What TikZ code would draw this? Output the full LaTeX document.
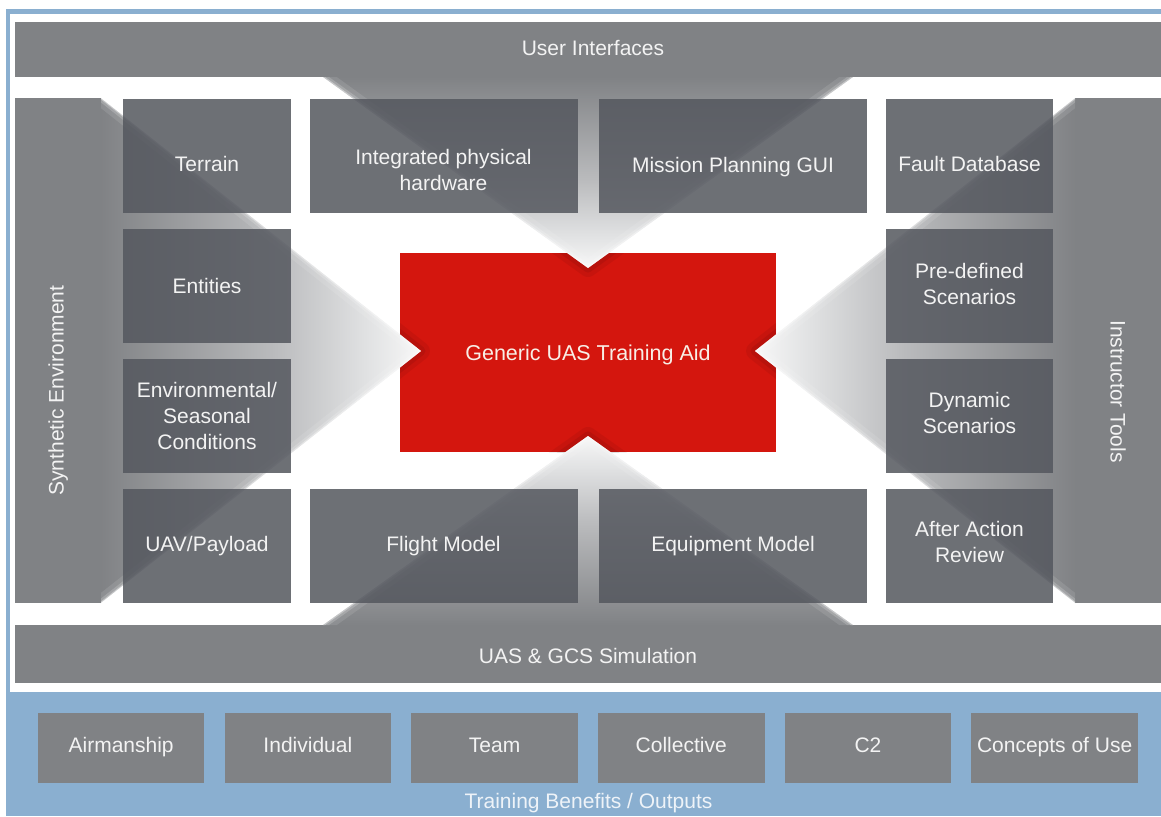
\documentclass[tikz,border=0pt]{standalone}
\usepackage{fontspec}
\setmainfont{Liberation Sans}
\definecolor{framebl}{RGB}{138,175,208}
\definecolor{bandgray}{RGB}{128,130,133}
\definecolor{beammid}{RGB}{186,187,189}
\definecolor{beamlight}{RGB}{226,227,228}
\definecolor{beamend}{RGB}{247,247,247}
\definecolor{cellgray}{RGB}{84,87,94}
\definecolor{outgray}{RGB}{128,130,133}
\definecolor{aidred}{RGB}{212,22,14}
\definecolor{txtwhite}{RGB}{243,243,243}
\definecolor{aidtxt}{RGB}{248,238,230}
\definecolor{blutxt}{RGB}{238,243,248}
\pgfdeclarehorizontalshading{beam}{100bp}{color(0bp)=(bandgray); color(25bp)=(bandgray); color(52bp)=(beammid); color(67bp)=(beamlight); color(75bp)=(beamend); color(100bp)=(beamend)}
\begin{document}
\begin{tikzpicture}[x=1pt,y=-1pt,
  cell/.style={rectangle, fill=cellgray, fill opacity=0.85, draw=none, inner sep=0pt, anchor=north west},
  colw/.style={minimum width=168pt, minimum height=114pt},
  midw/.style={minimum width=267.5pt, minimum height=114pt},
  outbox/.style={rectangle, fill=outgray, inner sep=0pt, anchor=north west, minimum width=166.5pt, minimum height=70pt},
  lbl/.style={text=txtwhite, font=\fontsize{21}{26}\selectfont, align=center, inner sep=0pt},
  seam/.style={white, line join=miter},
  tipshadow/.style={black, line join=round}
]
\useasboundingbox (0,0) rectangle (1161,816);
% background and frame
\fill[white] (0,0) rectangle (1161,816);
\fill[framebl] (6,9) rectangle (1161,816);
\fill[white] (10,14) rectangle (1161,692);

% central red box
\node[rectangle, fill=aidred, inner sep=0pt, anchor=north west, minimum width=376pt, minimum height=199pt] (aid) at (400,253) {};
\begin{scope}
  \clip (400,253) rectangle (776,452);
  \draw[tipshadow, opacity=.06, line width=18pt] (101,98) -- (421,351) -- (101,603);
  \draw[tipshadow, opacity=.07, line width=9pt] (101,98) -- (421,351) -- (101,603);
  \draw[tipshadow, opacity=.06, line width=18pt] (1075,98) -- (755,351) -- (1075,603);
  \draw[tipshadow, opacity=.07, line width=9pt] (1075,98) -- (755,351) -- (1075,603);
  \draw[tipshadow, opacity=.06, line width=18pt] (323,77) -- (588,268) -- (853,77);
  \draw[tipshadow, opacity=.07, line width=9pt] (323,77) -- (588,268) -- (853,77);
  \draw[tipshadow, opacity=.06, line width=18pt] (323,625) -- (588,436) -- (853,625);
  \draw[tipshadow, opacity=.07, line width=9pt] (323,625) -- (588,436) -- (853,625);
\end{scope}

% bands
\fill[bandgray] (15,22) rectangle (1161,77);
\fill[bandgray] (15,98) rectangle (101,603);
\fill[bandgray] (1075,98) rectangle (1161,603);
\fill[bandgray] (15,625) rectangle (1161,683);

% beams (triangles)
\shade[shading=beam, shading angle=0] (100.5,98) -- (421,351) -- (100.5,603) -- cycle;
\shade[shading=beam, shading angle=180] (1075.5,98) -- (755,351) -- (1075.5,603) -- cycle;
\shade[shading=beam, shading angle=270] (322.6,76.6) -- (588,268) -- (853.4,76.6) -- cycle;
\shade[shading=beam, shading angle=90] (322.6,625.4) -- (588,436) -- (853.4,625.4) -- cycle;

% seams along the beam edges
\begin{scope}
  \clip (101,98) -- (421,351) -- (101,603) -- cycle;
  \draw[seam, opacity=.10, line width=16pt] (101,98) -- (421,351) -- (101,603);
  \draw[seam, opacity=.18, line width=7pt] (101,98) -- (421,351) -- (101,603);
  \draw[seam, opacity=.35, line width=2.5pt] (101,98) -- (421,351) -- (101,603);
\end{scope}
\begin{scope}
  \clip (1075,98) -- (755,351) -- (1075,603) -- cycle;
  \draw[seam, opacity=.10, line width=16pt] (1075,98) -- (755,351) -- (1075,603);
  \draw[seam, opacity=.18, line width=7pt] (1075,98) -- (755,351) -- (1075,603);
  \draw[seam, opacity=.35, line width=2.5pt] (1075,98) -- (755,351) -- (1075,603);
\end{scope}
\begin{scope}
  \clip (323,77) -- (588,268) -- (853,77) -- cycle;
  \draw[seam, opacity=.10, line width=16pt] (323,77) -- (588,268) -- (853,77);
  \draw[seam, opacity=.18, line width=7pt] (323,77) -- (588,268) -- (853,77);
  \draw[seam, opacity=.35, line width=2.5pt] (323,77) -- (588,268) -- (853,77);
\end{scope}
\begin{scope}
  \clip (323,625) -- (588,436) -- (853,625) -- cycle;
  \draw[seam, opacity=.10, line width=16pt] (323,625) -- (588,436) -- (853,625);
  \draw[seam, opacity=.18, line width=7pt] (323,625) -- (588,436) -- (853,625);
  \draw[seam, opacity=.35, line width=2.5pt] (323,625) -- (588,436) -- (853,625);
\end{scope}

% cells
\node[cell, colw] (terrain) at (123,99) {};
\node[cell, colw] (entities) at (123,229) {};
\node[cell, colw] (envcond) at (123,359) {};
\node[cell, colw] (uav) at (123,489) {};
\node[cell, midw] (hardware) at (310,99) {};
\node[cell, midw] (mission) at (599,99) {};
\node[cell, midw] (flight) at (310,489) {};
\node[cell, midw] (equip) at (599,489) {};
\node[cell, colw, minimum width=167pt] (fault) at (886,99) {};
\node[cell, colw, minimum width=167pt] (predef) at (886,229) {};
\node[cell, colw, minimum width=167pt] (dynamic) at (886,359) {};
\node[cell, colw, minimum width=167pt] (aar) at (886,489) {};

% output boxes
\node[outbox] (airman) at (37.7,713) {};
\node[outbox] (indiv) at (224.4,713) {};
\node[outbox] (team) at (411.1,713) {};
\node[outbox] (collect) at (597.8,713) {};
\node[outbox] (ctwo) at (784.5,713) {};
\node[outbox] (concepts) at (971.2,713) {};

% labels
\node[lbl, anchor=base] (t-ui) at (593,56) {User Interfaces};
\node[lbl, anchor=base] (t-uas) at (588,663) {UAS \& GCS Simulation};
\node[lbl, anchor=base, rotate=90] (t-synth) at (63.5,390.5) {Synthetic Environment};
\node[lbl, anchor=base, rotate=-90] (t-instr) at (1110.5,391.5) {Instructor Tools};

\node[lbl, anchor=base] (t-terrain) at (207,171) {Terrain};
\node[lbl, anchor=base] (t-entities) at (207,293) {Entities};
\node[lbl] (t-envcond) at (207,416) {Environmental/\\Seasonal\\Conditions};
\node[lbl, anchor=base] (t-uav) at (207,551) {UAV/Payload};
\node[lbl] (t-hardware) at (443.5,170) {Integrated physical\\hardware};
\node[lbl, anchor=base] (t-mission) at (733,172) {Mission Planning GUI};
\node[lbl, anchor=base] (t-flight) at (443.5,551.5) {Flight Model};
\node[lbl, anchor=base] (t-equip) at (733,551.5) {Equipment Model};
\node[lbl, anchor=base] (t-fault) at (969.5,171.5) {Fault Database};
\node[lbl] (t-predef) at (969.5,284) {Pre-defined\\Scenarios};
\node[lbl] (t-dynamic) at (969.5,413) {Dynamic\\Scenarios};
\node[lbl] (t-aar) at (969.5,542) {After Action\\Review};

\node[lbl, anchor=base, text=aidtxt, font=\fontsize{21.5}{26}\selectfont] (t-aid) at (588,360) {Generic UAS Training Aid};

\node[lbl, anchor=base] (t-airman) at (airman.center |- 0,752) {Airmanship};
\node[lbl, anchor=base] (t-indiv) at (indiv.center |- 0,752) {Individual};
\node[lbl, anchor=base] (t-team) at (team.center |- 0,752) {Team};
\node[lbl, anchor=base] (t-collect) at (collect.center |- 0,752) {Collective};
\node[lbl, anchor=base] (t-ctwo) at (ctwo.center |- 0,752) {C2};
\node[lbl, anchor=base] (t-concepts) at (concepts.center |- 0,752) {Concepts of Use};
\node[lbl, anchor=base, text=blutxt] (t-benefits) at (588.5,808) {Training Benefits / Outputs};
\end{tikzpicture}
\end{document}
